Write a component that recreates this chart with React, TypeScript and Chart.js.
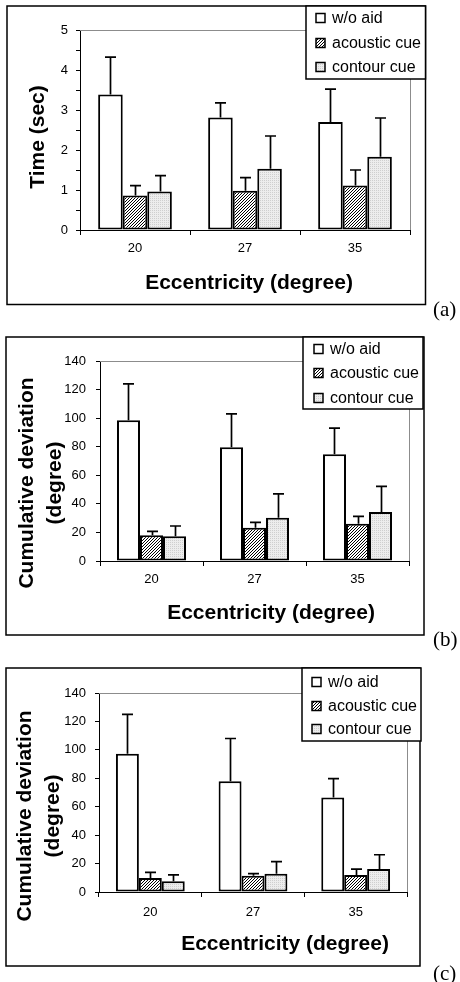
import React, { useEffect, useRef } from 'react';
import { Chart, registerables } from 'chart.js';

Chart.register(...registerables);

// ---------------- DATA ----------------
const categories = ['20', '27', '35'];
const seriesLabels = ['w/o aid', 'acoustic cue', 'contour cue'];

// (a) Time (sec)
const timeWoAid = [3.39, 2.81, 2.7];
const timeWoAidErr = [0.93, 0.37, 0.82];
const timeAcoustic = [0.86, 0.98, 1.11];
const timeAcousticErr = [0.25, 0.33, 0.39];
const timeContour = [0.96, 1.53, 1.83];
const timeContourErr = [0.4, 0.82, 0.97];

// (b) Cumulative deviation (degree)
const devBWoAid = [98.5, 79.6, 74.7];
const devBWoAidErr = [25.5, 23.4, 18.3];
const devBAcoustic = [18, 23.3, 26];
const devBAcousticErr = [2.8, 3.7, 5.3];
const devBContour = [17.3, 30.3, 34.3];
const devBContourErr = [7.2, 16.7, 18];

// (c) Cumulative deviation (degree)
const devCWoAid = [97.2, 78, 66.4];
const devCWoAidErr = [27.8, 30, 13.3];
const devCAcoustic = [9.8, 11.5, 11.9];
const devCAcousticErr = [4, 1.4, 4.2];
const devCContour = [7.5, 12.9, 16.1];
const devCContourErr = [4.5, 8.4, 10.1];

// tick setup
const timeAxisMax = 5;
const timeAxisStep = 0.5;
const devAxisMax = 140;
const devAxisStep = 20;

const xTitleText = 'Eccentricity (degree)';
const timeTitleLines = ['Time (sec)'];
const devTitleLines = ['Cumulative deviation', '(degree)'];

// ---------------- LAYOUT ----------------
const SANS = '"Liberation Sans", Arial, Helvetica, sans-serif';
const SERIF = '"Liberation Serif", "Times New Roman", serif';

type PanelCfg = {
  top: number;
  height: number;
  chartLeft: number;
  chartRight: number;
  chartTop: number;
  chartBottom: number;
  frame: [number, number, number, number];
  legendBox: [number, number, number, number];
  legendY: number[];
  swatchX: number;
  legendTextX: number;
  yTitleLines: string[];
  yTitleX: number[];
  yTitleY: number;
  xTitleX: number;
  xTitleY: number;
  yMax: number;
  yStep: number;
  integerLabelsOnly: boolean;
  yTickPad: number;
  xTickPad: number;
  values: number[][];
  errors: number[][];
  tag: string;
  tagTop: number;
};

const panels: PanelCfg[] = [
  {
    top: 0, height: 320,
    chartLeft: 80, chartRight: 410, chartTop: 30, chartBottom: 230,
    frame: [7, 6, 425.5, 304.5],
    legendBox: [306, 6, 425.5, 79],
    legendY: [18, 43, 67], swatchX: 316, legendTextX: 332,
    yTitleLines: timeTitleLines, yTitleX: [38], yTitleY: 137,
    xTitleX: 249, xTitleY: 283,
    yMax: timeAxisMax, yStep: timeAxisStep, integerLabelsOnly: true,
    yTickPad: 8, xTickPad: 6,
    values: [timeWoAid, timeAcoustic, timeContour],
    errors: [timeWoAidErr, timeAcousticErr, timeContourErr],
    tag: '(a)', tagTop: 299,
  },
  {
    top: 320, height: 330,
    chartLeft: 100, chartRight: 409, chartTop: 41, chartBottom: 241,
    frame: [6, 17, 424, 315],
    legendBox: [303, 17, 423, 89],
    legendY: [29, 53, 78], swatchX: 314, legendTextX: 330,
    yTitleLines: devTitleLines, yTitleX: [27, 55], yTitleY: 163,
    xTitleX: 271, xTitleY: 293,
    yMax: devAxisMax, yStep: devAxisStep, integerLabelsOnly: false,
    yTickPad: 10, xTickPad: 6,
    values: [devBWoAid, devBAcoustic, devBContour],
    errors: [devBWoAidErr, devBAcousticErr, devBContourErr],
    tag: '(b)', tagTop: 629,
  },
  {
    top: 650, height: 332,
    chartLeft: 99, chartRight: 407, chartTop: 43, chartBottom: 242,
    frame: [6, 18, 420, 316],
    legendBox: [302, 18, 421, 91],
    legendY: [32, 56, 79], swatchX: 312, legendTextX: 328,
    yTitleLines: devTitleLines, yTitleX: [25, 53], yTitleY: 166,
    xTitleX: 285, xTitleY: 294,
    yMax: devAxisMax, yStep: devAxisStep, integerLabelsOnly: false,
    yTickPad: 9, xTickPad: 8,
    values: [devCWoAid, devCAcoustic, devCContour],
    errors: [devCWoAidErr, devCAcousticErr, devCContourErr],
    tag: '(c)', tagTop: 963,
  },
];

function makeHatch(ctx: CanvasRenderingContext2D) {
  const c = document.createElement('canvas');
  c.width = 3; c.height = 3;
  const g = c.getContext('2d')!;
  g.fillStyle = '#ffffff';
  g.fillRect(0, 0, 3, 3);
  g.strokeStyle = '#000000';
  g.lineWidth = 1;
  g.beginPath();
  g.moveTo(0, 3); g.lineTo(3, 0);
  g.moveTo(-1, 1); g.lineTo(1, -1);
  g.moveTo(2, 4); g.lineTo(4, 2);
  g.stroke();
  return ctx.createPattern(c, 'repeat')!;
}

function makeDots(ctx: CanvasRenderingContext2D) {
  const c = document.createElement('canvas');
  c.width = 2; c.height = 2;
  const g = c.getContext('2d')!;
  g.fillStyle = '#ededed';
  g.fillRect(0, 0, 2, 2);
  g.fillStyle = '#cfcfcf';
  g.fillRect(0, 0, 1, 1);
  return ctx.createPattern(c, 'repeat')!;
}

const decoPlugin = {
  id: 'deco',
  beforeDatasetsDraw(chart: any) {
    const { ctx, chartArea } = chart;
    ctx.save();
    ctx.strokeStyle = '#8c8c8c';
    ctx.lineWidth = 1;
    ctx.beginPath();
    ctx.moveTo(chartArea.left, chartArea.top + 0.5);
    ctx.lineTo(chartArea.right + 0.5, chartArea.top + 0.5);
    ctx.lineTo(chartArea.right + 0.5, chartArea.bottom);
    ctx.stroke();
    ctx.restore();
  },
  afterDatasetsDraw(chart: any) {
    const { ctx } = chart;
    const yScale = chart.scales.y;
    ctx.save();
    ctx.strokeStyle = '#000';
    ctx.lineWidth = 1.7;
    chart.data.datasets.forEach((ds: any, i: number) => {
      const meta = chart.getDatasetMeta(i);
      meta.data.forEach((el: any, j: number) => {
        const v = ds.data[j];
        const e = ds.errors[j];
        const yTop = yScale.getPixelForValue(v + e);
        const x = Math.round(el.x) + 0.5;
        ctx.beginPath();
        ctx.moveTo(x, el.y);
        ctx.lineTo(x, yTop);
        ctx.moveTo(x - 5.5, yTop);
        ctx.lineTo(x + 5.5, yTop);
        ctx.stroke();
      });
    });
    ctx.restore();
  },
  afterDraw(chart: any, _args: any, opts: any) {
    const { ctx } = chart;
    const cfg: PanelCfg = opts.cfg;
    ctx.save();
    // frame
    const [fx1, fy1, fx2, fy2] = cfg.frame;
    ctx.strokeStyle = '#000';
    ctx.lineWidth = 1.5;
    ctx.strokeRect(fx1, fy1, fx2 - fx1, fy2 - fy1);

    // titles
    ctx.fillStyle = '#000';
    ctx.font = `bold 21px ${SANS}`;
    ctx.textAlign = 'center';
    ctx.textBaseline = 'middle';
    ctx.fillText(xTitleText, cfg.xTitleX, cfg.xTitleY);
    cfg.yTitleLines.forEach((line, k) => {
      ctx.save();
      ctx.translate(cfg.yTitleX[k], cfg.yTitleY);
      ctx.rotate(-Math.PI / 2);
      ctx.fillText(line, 0, 0);
      ctx.restore();
    });

    // legend
    const [lx1, ly1, lx2, ly2] = cfg.legendBox;
    ctx.fillStyle = '#fff';
    ctx.fillRect(lx1, ly1, lx2 - lx1, ly2 - ly1);
    ctx.lineWidth = 1.5;
    ctx.strokeStyle = '#000';
    ctx.strokeRect(lx1, ly1, lx2 - lx1, ly2 - ly1);
    ctx.font = `16px ${SANS}`;
    ctx.textAlign = 'left';
    ctx.textBaseline = 'middle';
    chart.data.datasets.forEach((ds: any, i: number) => {
      const cy = cfg.legendY[i];
      ctx.fillStyle = ds.backgroundColor;
      ctx.fillRect(cfg.swatchX, cy - 4.5, 9, 9);
      ctx.strokeStyle = '#000';
      ctx.lineWidth = 1.5;
      ctx.strokeRect(cfg.swatchX, cy - 4.5, 9, 9);
      ctx.fillStyle = '#000';
      ctx.fillText(ds.label, cfg.legendTextX, cy + 1);
    });
    ctx.restore();
  },
};

function Panel({ cfg }: { cfg: PanelCfg }) {
  const ref = useRef<HTMLCanvasElement>(null);
  useEffect(() => {
    const canvas = ref.current!;
    const ctx = canvas.getContext('2d')!;
    const fills = ['#ffffff', makeHatch(ctx), makeDots(ctx)];
    const chart = new Chart(ctx, {
      type: 'bar',
      data: {
        labels: categories,
        datasets: seriesLabels.map((label, i) => ({
          label,
          data: cfg.values[i],
          errors: cfg.errors[i],
          backgroundColor: fills[i] as any,
          borderColor: '#000',
          borderWidth: 2,
          borderSkipped: false,
          categoryPercentage: 0.67,
          barPercentage: 1.0,
        })) as any,
      },
      options: {
        responsive: false,
        animation: false,
        devicePixelRatio: 1,
        layout: {
          padding: { left: 0, top: cfg.chartTop, right: 460 - cfg.chartRight, bottom: 0 },
        },
        plugins: {
          legend: { display: false },
          tooltip: { enabled: false },
          deco: { cfg },
        } as any,
        scales: {
          x: {
            type: 'category',
            grid: {
              display: true,
              drawOnChartArea: false,
              drawTicks: true,
              tickLength: 5,
              tickColor: '#000',
              tickWidth: 1,
              offset: true,
            },
            border: { display: true, color: '#000', width: 1 },
            ticks: {
              color: '#000',
              font: { family: SANS, size: 13 },
              padding: cfg.xTickPad,
              maxRotation: 0,
            },
            afterFit: (s: any) => {
              s.height = cfg.height - cfg.chartBottom;
            },
          },
          y: {
            min: 0,
            max: cfg.yMax,
            grid: {
              display: true,
              drawOnChartArea: false,
              drawTicks: true,
              tickLength: 4,
              tickColor: '#000',
              tickWidth: 1,
            },
            border: { display: true, color: '#000', width: 1 },
            ticks: {
              stepSize: cfg.yStep,
              color: '#000',
              font: { family: SANS, size: 13 },
              padding: cfg.yTickPad,
              autoSkip: false,
              callback: (v: any) => {
                const n = Number(v);
                if (cfg.integerLabelsOnly && Math.abs(n - Math.round(n)) > 1e-6) return '';
                return String(Math.round(n));
              },
            },
            afterFit: (s: any) => {
              s.width = cfg.chartLeft;
            },
          },
        },
      } as any,
      plugins: [decoPlugin as any],
    });
    return () => chart.destroy();
  }, [cfg]);
  return (
    <div style={{ position: 'absolute', left: 0, top: cfg.top, width: 460, height: cfg.height }}>
      <canvas ref={ref} width={460} height={cfg.height} style={{ display: 'block', width: 460, height: cfg.height }} />
    </div>
  );
}

export default function App() {
  return (
    <div style={{ position: 'absolute', left: 0, top: 0, width: 460, height: 982, background: '#fff', overflow: 'hidden' }}>
      {panels.map((p) => (
        <Panel key={p.tag} cfg={p} />
      ))}
      {panels.map((p) => (
        <span
          key={p.tag + 'tag'}
          style={{
            position: 'absolute',
            left: 433,
            top: p.tagTop,
            fontFamily: SERIF,
            fontSize: 21,
            lineHeight: '21px',
            color: '#000',
            whiteSpace: 'nowrap',
          }}
        >
          {p.tag}
        </span>
      ))}
    </div>
  );
}
